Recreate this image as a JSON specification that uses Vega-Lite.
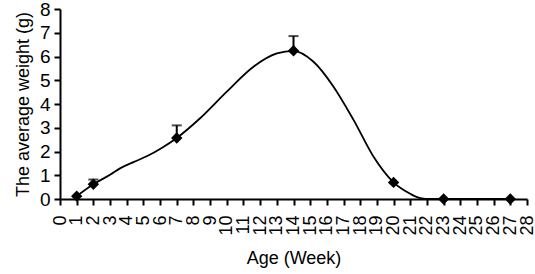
{
  "$schema": "https://vega.github.io/schema/vega-lite/v6.json",
  "autosize": {"type": "none"},
  "padding": {"left": 60, "top": 9, "right": 8, "bottom": 75},
  "width": 467,
  "height": 190,
  "background": "white",
  "config": {
    "view": {"stroke": null},
    "font": "Liberation Sans",
    "axis": {
      "grid": false,
      "domainColor": "black",
      "domainWidth": 2,
      "tickColor": "black",
      "tickWidth": 2,
      "tickSize": 6,
      "labelColor": "black",
      "titleColor": "black",
      "titleFont": "Liberation Sans",
      "labelFont": "Liberation Sans",
      "titleFontWeight": "normal",
      "titleFontSize": 18
    }
  },
  "datasets": {
    "points": [
      {"week": 1, "weight": 0.12, "upper": null},
      {"week": 2, "weight": 0.62, "upper": 0.82},
      {"week": 7, "weight": 2.57, "upper": 3.1},
      {"week": 14, "weight": 6.24, "upper": 6.86},
      {"week": 20, "weight": 0.7, "upper": null},
      {"week": 23, "weight": 0, "upper": null},
      {"week": 27, "weight": 0, "upper": null}
    ],
    "curve": [
      {"week": 1, "weight": 0.12},
      {"week": 2, "weight": 0.62},
      {"week": 3, "weight": 1.02},
      {"week": 3.6, "weight": 1.29},
      {"week": 4.4, "weight": 1.55},
      {"week": 5.2, "weight": 1.8},
      {"week": 6.1, "weight": 2.15},
      {"week": 7, "weight": 2.57},
      {"week": 8.4, "weight": 3.4},
      {"week": 10, "weight": 4.52},
      {"week": 11.6, "weight": 5.57},
      {"week": 13, "weight": 6.13},
      {"week": 14, "weight": 6.24},
      {"week": 15.2, "weight": 5.78},
      {"week": 16.4, "weight": 4.73},
      {"week": 17.6, "weight": 3.33},
      {"week": 18.8, "weight": 1.78},
      {"week": 20, "weight": 0.7},
      {"week": 21, "weight": 0.22},
      {"week": 21.6, "weight": 0.04},
      {"week": 22.2, "weight": 0},
      {"week": 23, "weight": 0},
      {"week": 27, "weight": 0}
    ]
  },
  "encoding": {
    "x": {
      "field": "week",
      "type": "quantitative",
      "scale": {"domain": [0, 28], "nice": false},
      "axis": {
        "title": "Age (Week)",
        "values": [0,1,2,3,4,5,6,7,8,9,10,11,12,13,14,15,16,17,18,19,20,21,22,23,24,25,26,27,28],
        "labelAngle": 270,
        "labelFontSize": 18,
        "labelPadding": 10,
        "titlePadding": 14,
        "labelOverlap": false,
        "labelFlush": false
      }
    },
    "y": {
      "field": "weight",
      "type": "quantitative",
      "scale": {"domain": [0, 8], "nice": false},
      "axis": {
        "title": "The average weight (g)",
        "values": [0,1,2,3,4,5,6,7,8],
        "labelFontSize": 19,
        "labelPadding": 4,
        "titlePadding": 7,
        "labelFlush": false
      }
    }
  },
  "layer": [
    {
      "data": {"name": "curve"},
      "mark": {"type": "line", "interpolate": "monotone", "color": "black", "strokeWidth": 1.8}
    },
    {
      "data": {"name": "points"},
      "transform": [{"filter": "datum.upper != null"}],
      "mark": {"type": "rule", "color": "black", "strokeWidth": 2},
      "encoding": {"y2": {"field": "upper"}}
    },
    {
      "data": {"name": "points"},
      "transform": [{"filter": "datum.upper != null"}],
      "mark": {"type": "tick", "orient": "horizontal", "color": "black", "size": 10, "thickness": 2},
      "encoding": {"y": {"field": "upper", "type": "quantitative"}}
    },
    {
      "data": {"name": "points"},
      "mark": {"type": "point", "shape": "diamond", "filled": true, "color": "black", "opacity": 1, "size": 130}
    }
  ]
}
